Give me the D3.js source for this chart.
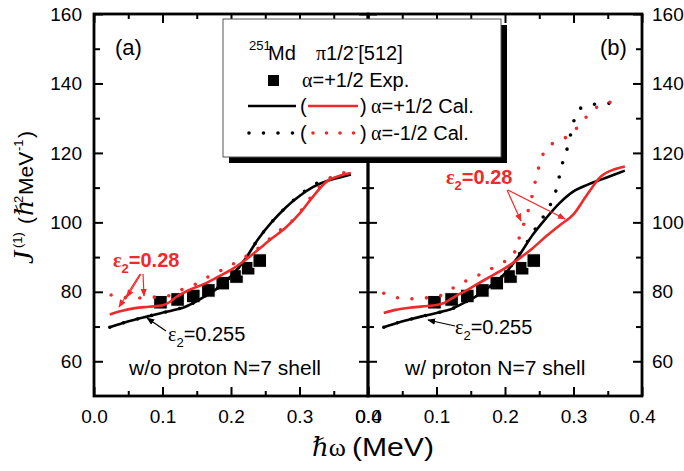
<!DOCTYPE html>
<html lang="en">
<head>
<meta charset="UTF-8">
<title>251Md moment of inertia</title>
<script src="https://cdn.jsdelivr.net/npm/d3@7"></script>
<style>
  body { margin: 0; background: #fff; }
  svg { display: block; font-family: "Liberation Sans", Arial, sans-serif; }
</style>
</head>
<body>
<svg id="chart" width="684" height="471"></svg>
<script>
// experimental points, alpha=+1/2 (same in both panels)
var expW = [0.097, 0.122, 0.145, 0.167, 0.188, 0.208, 0.225, 0.242];
var expJ = [77.0, 77.8, 78.8, 80.4, 82.5, 84.4, 86.8, 89.0];

// omega grid of the solid (alpha=+1/2) curves
var calW = [0.023, 0.04, 0.06, 0.08, 0.10, 0.11, 0.12, 0.13, 0.14, 0.16, 0.18,
            0.20, 0.22, 0.24, 0.26, 0.28, 0.30, 0.32, 0.34, 0.36, 0.375];

// (a) w/o proton N=7 shell
var aBlackJ = [69.8, 70.9, 72.0, 73.0, 74.0, 74.4, 74.9, 75.4, 76.3, 78.5, 81.0,
               84.5, 89.2, 95.3, 100.2, 104.3, 107.6, 110.2, 111.9, 113.0, 113.8];
var aRedJ   = [73.5, 74.5, 75.3, 75.7, 76.1, 77.0, 78.5, 79.6, 80.6, 82.2, 84.2,
               86.3, 89.0, 92.2, 95.4, 98.5, 102.5, 107.5, 111.8, 113.5, 114.2];
var aBlackDotW = [0.023, 0.04, 0.06, 0.08, 0.10, 0.12, 0.14, 0.16, 0.18, 0.20,
                  0.22, 0.24, 0.26, 0.28, 0.30, 0.32, 0.34, 0.36];
var aBlackDotJ = [69.8, 70.9, 72.0, 73.0, 74.0, 74.9, 76.3, 78.5, 81.0, 84.5,
                  89.2, 95.3, 100.2, 104.3, 107.8, 110.7, 112.4, 113.3];
var aRedDotW = [0.025, 0.047, 0.068, 0.09, 0.11, 0.13, 0.15, 0.17, 0.19, 0.21,
                0.235, 0.255, 0.275, 0.295, 0.31, 0.328, 0.348, 0.37];
var aRedDotJ = [79.1, 78.3, 78.2, 78.5, 78.9, 80.8, 82.4, 84.7, 86.6, 88.8,
                91.9, 95.0, 98.3, 101.5, 105.5, 110.0, 113.2, 114.4];

// (b) w/ proton N=7 shell
var bBlackJ = [69.8, 70.9, 72.0, 73.0, 73.9, 74.4, 74.9, 75.8, 76.8, 79.0, 81.8,
               85.3, 90.3, 96.3, 101.2, 105.6, 108.9, 110.8, 112.3, 113.8, 114.9];
var bRedJ   = [73.9, 74.8, 75.4, 75.8, 76.2, 76.7, 77.8, 79.0, 80.0, 82.3, 84.5,
               86.8, 89.5, 92.5, 96.0, 99.2, 102.3, 108.0, 113.2, 115.3, 116.1];
var bBlackDotW = [0.023, 0.04, 0.06, 0.08, 0.10, 0.12, 0.14, 0.16, 0.18, 0.20, 0.21, 0.22,
                  0.23, 0.24, 0.253, 0.266, 0.274, 0.284, 0.291, 0.296, 0.301, 0.314, 0.335, 0.357];
var bBlackDotJ = [69.8, 70.9, 72.0, 73.0, 73.9, 74.9, 76.8, 79.0, 81.8, 85.3, 87.8, 90.6,
                  93.6, 96.8, 100.7, 105.0, 108.9, 117.1, 121.4, 125.5, 129.5, 133.3, 134.1, 134.3];
var bRedDotW = [0.023, 0.046, 0.068, 0.09, 0.109, 0.129, 0.148, 0.17, 0.192, 0.212, 0.219,
                0.226, 0.233, 0.239, 0.248, 0.256, 0.27, 0.289, 0.307, 0.325, 0.346, 0.372];
var bRedDotJ = [79.6, 78.2, 78.0, 78.4, 79.1, 81.7, 83.6, 85.6, 88.0, 90.6, 94.5,
                98.7, 102.8, 107.2, 114.9, 119.8, 122.8, 124.5, 127.6, 131.7, 134.3, 134.9];

var xMajor = [0, 0.1, 0.2, 0.3, 0.4];
var xMinor = [0.05, 0.15, 0.25, 0.35];
var yMajor = [60, 80, 100, 120, 140, 160];
var yMinor = [70, 90, 110, 130, 150];

var red = "#ee2a2a";
var serif = "'Liberation Serif', 'DejaVu Serif', serif";
var svg = d3.select("#chart");

var xa = d3.scaleLinear().domain([0, 0.4]).range([94, 368]);
var xb = d3.scaleLinear().domain([0, 0.4]).range([368, 642]);
var y = d3.scaleLinear().domain([50, 160]).range([396, 14]);

// arrow heads
var defs = svg.append("defs");
[["arrBlack", "#000"], ["arrRed", red]].forEach(function (m) {
    defs.append("marker").attr("id", m[0])
        .attr("viewBox", "0 0 10 8").attr("refX", 9).attr("refY", 4)
        .attr("markerUnits", "userSpaceOnUse")
        .attr("markerWidth", 8).attr("markerHeight", 6.5).attr("orient", "auto")
        .append("path").attr("d", "M0,0 L10,4 L0,8 z").attr("fill", m[1]);
});

function drawAxis(axis, tx, ty, labels) {
    var g = svg.append("g").attr("transform", "translate(" + tx + "," + ty + ")").call(axis);
    g.select(".domain").remove();
    g.attr("font-family", null).attr("font-size", 19);
    g.selectAll("line").attr("stroke", "#000").attr("stroke-width", 2);
    g.selectAll("text").attr("fill", "#000");
    if (!labels) g.selectAll("text").remove();
}

function panel(x, leftLabels, rightLabels) {
    var fmt = d3.format(".1f");
    drawAxis(d3.axisBottom(x).tickValues(xMajor).tickSizeInner(-9).tickSizeOuter(0)
        .tickPadding(14).tickFormat(fmt), 0, y(50), true);
    drawAxis(d3.axisBottom(x).tickValues(xMinor).tickSize(-5), 0, y(50), false);
    drawAxis(d3.axisTop(x).tickValues(xMajor).tickSize(-9), 0, y(160), false);
    drawAxis(d3.axisTop(x).tickValues(xMinor).tickSize(-5), 0, y(160), false);
    drawAxis(d3.axisLeft(y).tickValues(yMajor).tickSizeInner(-9).tickSizeOuter(0)
        .tickPadding(12), x(0), 0, leftLabels);
    drawAxis(d3.axisLeft(y).tickValues(yMinor).tickSize(-6), x(0), 0, false);
    drawAxis(d3.axisRight(y).tickValues(yMajor).tickSizeInner(-9).tickSizeOuter(0)
        .tickPadding(10), x(0.4), 0, rightLabels);
    drawAxis(d3.axisRight(y).tickValues(yMinor).tickSize(-6), x(0.4), 0, false);
    svg.append("rect")
        .attr("x", x(0)).attr("y", y(160))
        .attr("width", x(0.4) - x(0)).attr("height", y(50) - y(160))
        .attr("fill", "none").attr("stroke", "#000").attr("stroke-width", 2.8);
}

function curve(x, ws, js, color, dotted) {
    var line = d3.line()
        .x(function (d) { return x(d[0]); })
        .y(function (d) { return y(d[1]); })
        .curve(d3.curveMonotoneX);
    var p = svg.append("path")
        .attr("d", line(d3.zip(ws, js)))
        .attr("fill", "none").attr("stroke", color);
    if (dotted) {
        p.attr("stroke-width", 3.6).attr("stroke-dasharray", "0 14.5").attr("stroke-linecap", "round");
    } else {
        p.attr("stroke-width", 2.6);
    }
}

function squares(x) {
    svg.append("g").selectAll("rect").data(d3.zip(expW, expJ)).enter().append("rect")
        .attr("x", function (d) { return x(d[0]) - 6.8; })
        .attr("y", function (d) { return y(d[1]) - 6.8; })
        .attr("width", 13.6).attr("height", 13.6)
        .attr("fill", "#000").attr("stroke", "#fff").attr("stroke-width", 1);
}

function arrow(x1, y1, x2, y2, color) {
    svg.append("line").attr("x1", x1).attr("y1", y1).attr("x2", x2).attr("y2", y2)
        .attr("stroke", color).attr("stroke-width", 1.2)
        .attr("marker-end", "url(#" + (color === red ? "arrRed" : "arrBlack") + ")");
}

function epsLabel(x0, y0, value, color, bold) {
    var t = svg.append("text").attr("x", x0).attr("y", y0).attr("font-size", 20)
        .attr("fill", color).attr("font-weight", bold ? "bold" : "normal");
    t.append("tspan").attr("font-family", serif).text("ε");
    t.append("tspan").attr("font-size", 13).attr("dy", 6).text("2");
    t.append("tspan").attr("dy", -6).text("=" + value);
}

panel(xa, true, false);
panel(xb, false, true);

// panel (a)
squares(xa);
curve(xa, aBlackDotW, aBlackDotJ, "#000", true);
curve(xa, calW, aBlackJ, "#000", false);
curve(xa, aRedDotW, aRedDotJ, red, true);
curve(xa, calW, aRedJ, red, false);

// panel (b)
squares(xb);
curve(xb, bBlackDotW, bBlackDotJ, "#000", true);
curve(xb, calW, bBlackJ, "#000", false);
curve(xb, bRedDotW, bRedDotJ, red, true);
curve(xb, calW, bRedJ, red, false);

// annotations
svg.append("text").attr("x", 115).attr("y", 55).attr("font-size", 22).text("(a)");
svg.append("text").attr("x", 600).attr("y", 55).attr("font-size", 22).text("(b)");
svg.append("text").attr("x", 129).attr("y", 375).attr("font-size", 21).text("w/o proton N=7 shell");
svg.append("text").attr("x", 405).attr("y", 375).attr("font-size", 21).text("w/ proton N=7 shell");

epsLabel(113, 267, "0.28", red, true);
epsLabel(168, 341, "0.255", "#000", false);
epsLabel(446, 184, "0.28", red, true);
epsLabel(455, 334, "0.255", "#000", false);

arrow(140, 274, 119, 307, red);
arrow(141, 274, 127, 297, red);
arrow(143, 274, 144, 296, red);
arrow(166, 331, 147, 318, "#000");
arrow(507, 190, 521, 221, red);
arrow(508, 190, 565, 219, red);
arrow(455, 326, 428, 320, "#000");

// legend
var lg = svg.append("g");
lg.append("rect").attr("x", 229).attr("y", 25).attr("width", 278).attr("height", 138).attr("fill", "#000");
lg.append("rect").attr("x", 223).attr("y", 19).attr("width", 278).attr("height", 138)
    .attr("fill", "#fff").attr("stroke", "#555").attr("stroke-width", 1);
lg.append("text").attr("x", 249).attr("y", 50).attr("font-size", 13).text("251");
lg.append("text").attr("x", 268).attr("y", 60).attr("font-size", 20).text("Md");
var t1 = lg.append("text").attr("x", 316).attr("y", 60).attr("font-size", 20);
t1.append("tspan").attr("font-family", serif).text("π");
t1.append("tspan").text("1/2");
t1.append("tspan").attr("font-size", 13).attr("dy", -9).text("-");
t1.append("tspan").attr("dy", 9).text("[512]");

lg.append("rect").attr("x", 268).attr("y", 75).attr("width", 11).attr("height", 11).attr("fill", "#000");
var t2 = lg.append("text").attr("x", 302).attr("y", 87).attr("font-size", 20);
t2.append("tspan").attr("font-family", serif).text("α");
t2.append("tspan").text("=+1/2 Exp.");

lg.append("line").attr("x1", 248).attr("x2", 296).attr("y1", 106).attr("y2", 106)
    .attr("stroke", "#000").attr("stroke-width", 2.6);
lg.append("line").attr("x1", 308).attr("x2", 358).attr("y1", 106).attr("y2", 106)
    .attr("stroke", red).attr("stroke-width", 2.6);
lg.append("text").attr("x", 300).attr("y", 113).attr("font-size", 20).text("(");
lg.append("text").attr("x", 360).attr("y", 113).attr("font-size", 20).text(")");
var t3 = lg.append("text").attr("x", 371).attr("y", 113).attr("font-size", 20);
t3.append("tspan").attr("font-family", serif).text("α");
t3.append("tspan").text("=+1/2 Cal.");

lg.append("line").attr("x1", 249).attr("x2", 294).attr("y1", 133).attr("y2", 133)
    .attr("stroke", "#000").attr("stroke-width", 3.6)
    .attr("stroke-dasharray", "0 14.5").attr("stroke-linecap", "round");
lg.append("line").attr("x1", 313).attr("x2", 355).attr("y1", 133).attr("y2", 133)
    .attr("stroke", red).attr("stroke-width", 3.6)
    .attr("stroke-dasharray", "0 13.5").attr("stroke-linecap", "round");
lg.append("text").attr("x", 300).attr("y", 140).attr("font-size", 20).text("(");
lg.append("text").attr("x", 360).attr("y", 140).attr("font-size", 20).text(")");
var t4 = lg.append("text").attr("x", 371).attr("y", 140).attr("font-size", 20);
t4.append("tspan").attr("font-family", serif).text("α");
t4.append("tspan").text("=-1/2 Cal.");

// axis titles
var xt = svg.append("text").attr("x", 312).attr("y", 456).attr("font-size", 26);
xt.append("tspan").attr("font-family", serif).attr("font-style", "italic").text("ℏ");
xt.append("tspan").attr("font-family", serif).text("ω");
svg.append("text").attr("x", 352).attr("y", 456).attr("font-size", 26)
    .attr("textLength", 82).attr("lengthAdjust", "spacingAndGlyphs").text("(MeV)");

var yt = svg.append("text").attr("transform", "translate(33,266) rotate(-90)").attr("font-size", 21);
yt.append("tspan").attr("x", 2).attr("font-family", serif).attr("font-style", "italic")
    .attr("font-size", 30).text("J");
yt.append("tspan").attr("x", 18).attr("dy", -11).attr("font-size", 13).text("(1)");
yt.append("tspan").attr("x", 42).attr("dy", 11).text("(");
yt.append("tspan").attr("x", 50).attr("font-family", serif).attr("font-style", "italic")
    .attr("font-size", 25).text("ℏ");
yt.append("tspan").attr("x", 63).attr("dy", -10).attr("font-size", 13).text("2");
yt.append("tspan").attr("x", 71).attr("dy", 10).text("MeV");
yt.append("tspan").attr("x", 115).attr("dy", -10).attr("font-size", 13).text("-1");
yt.append("tspan").attr("x", 128).attr("dy", 10).text(")");
</script>
</body>
</html>
